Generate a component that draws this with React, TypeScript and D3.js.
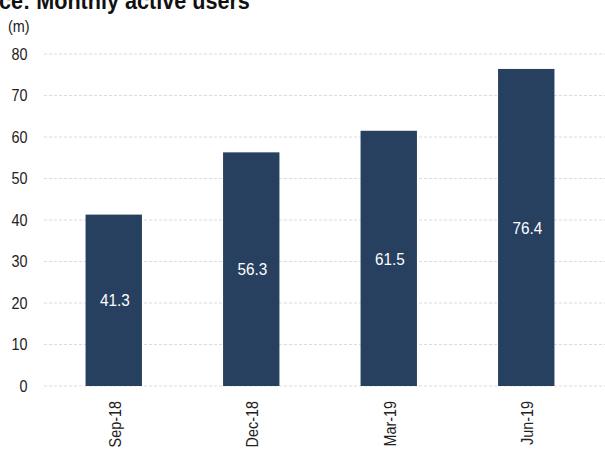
import React from "react";
import * as d3 from "d3";

const categories = ["Sep-18", "Dec-18", "Mar-19", "Jun-19"];
const values = [41.3, 56.3, 61.5, 76.4];
const yTicks = [0, 10, 20, 30, 40, 50, 60, 70, 80];
const title = "ce: Monthly active users";
const unit = "(m)";

const W = 605;
const H = 450;
const FONT = "'Liberation Sans', Arial, sans-serif";
const SX = 0.9;

export default function App() {
  const x = d3.scaleBand<string>().domain(categories).range([45, 595]).paddingInner(0.59).paddingOuter(0.295);
  const y = d3.scaleLinear().domain([0, 80]).range([386, 54]);

  return (
    <svg width={W} height={H} style={{ position: "absolute", left: 0, top: 0, background: "#fff" }} fontFamily={FONT}>
      <text transform={`translate(-1,9) scale(${SX},1)`} fontSize={24} fontWeight="bold" fill="#111">{title}</text>
      <text transform={`translate(8,32) scale(${SX},1)`} fontSize={16} fill="#222">{unit}</text>
      {yTicks.map((t) => (
        <g key={t}>
          <line x1={44} x2={605} y1={y(t)} y2={y(t)} stroke="#dcdcdc" strokeWidth={1} strokeDasharray="3,2" />
          <text transform={`translate(27.5,${y(t)}) scale(${SX},1)`} dy="0.36em" textAnchor="end" fontSize={16} fill="#222">{t}</text>
        </g>
      ))}
      {categories.map((c, i) => {
        const bx = x(c)!;
        const bw = x.bandwidth();
        const top = y(values[i]);
        return (
          <g key={c}>
            <rect x={bx} y={top} width={bw} height={y(0) - top} fill="#27405f" />
            <text
              transform={`translate(${bx + bw / 2 + 1},${(top + y(0)) / 2}) scale(${SX},1)`}
              dy="0.36em"
              textAnchor="middle"
              fontSize={17}
              fill="#fff"
            >
              {values[i].toFixed(1)}
            </text>
            <text
              transform={`translate(${bx + bw / 2 + 1},401) rotate(-90) scale(${SX},1)`}
              dy="0.36em"
              textAnchor="end"
              fontSize={16}
              fill="#222"
            >
              {c}
            </text>
          </g>
        );
      })}
    </svg>
  );
}
